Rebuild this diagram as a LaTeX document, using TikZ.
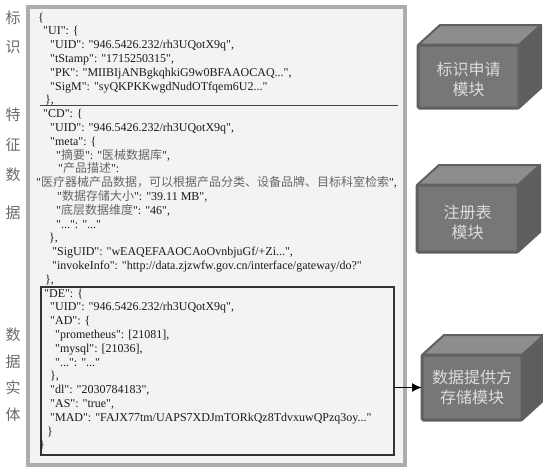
\documentclass[tikz,border=0pt]{standalone}
\usepackage{fontspec}
\setmainfont{Liberation Serif}[Ligatures=TeXOff]
\newfontfamily\cjk{Noto Sans CJK SC}
\usetikzlibrary{arrows.meta,calc}
\definecolor{framegray}{HTML}{ACACAC}
\definecolor{panelbg}{HTML}{F3F3F3}
\definecolor{txt}{HTML}{1A1A1A}
\definecolor{zhgray}{HTML}{666666}
\definecolor{sidegray}{HTML}{6A6A6A}
\definecolor{cubeedge}{HTML}{606060}
\definecolor{cubefrontc}{HTML}{777777}
\definecolor{cubetopc}{HTML}{8D8D8D}
\definecolor{cubesidec}{HTML}{5E5E5E}
\definecolor{cubetxt}{HTML}{DCDCDC}
\pgfdeclarelayer{bg}
\pgfsetlayers{bg,main}
\newcommand{\zh}[1]{{\cjk\color{zhgray}#1}}
\newcommand{\J}[4]{\node[jl] (#1) at (#2,{21+13.8*#3}) {#4};}
\newcommand{\cubebox}[7]{%
  \node[cubefront, minimum width=#4, minimum height=#5] (#1) at (#2,#3) {};
  \begin{pgfonlayer}{bg}
    \path[cubetop] (#1.north west) -- ++(22,-20) -- ($(#1.north east)+(22,-20)$) -- (#1.north east) -- cycle;
    \path[cubeside] (#1.north east) -- ++(22,-20) -- ($(#1.south east)+(22,-20)$) -- (#1.south east) -- cycle;
  \end{pgfonlayer}
  \node[cubetext] (#1t) at ([yshift=-#7]#1.center) {#6};
}
\tikzset{
  panel/.style={draw=framegray, line width=4pt, fill=panelbg, outer sep=0pt, inner sep=0pt},
  jl/.style={anchor=base west, inner sep=0pt, text=txt, font=\fontsize{12}{14}\selectfont},
  sidelabel/.style={inner sep=0pt, text=sidegray, font=\cjk\fontsize{15}{15}\selectfont},
  debox/.style={draw=black!80, line width=1.1pt, outer sep=0pt, inner sep=0pt},
  seprule/.style={draw=black!75, line width=1pt},
  cubefront/.style={draw=cubeedge, fill=cubefrontc, line width=3pt, rounded corners=1.5pt, outer sep=0pt, inner sep=0pt},
  cubetop/.style={draw=cubeedge, fill=cubetopc, line width=2pt, line join=round},
  cubeside/.style={draw=cubeedge, fill=cubesidec, line width=2pt, line join=round},
  cubetext/.style={align=center, inner sep=0pt, text=cubetxt, font=\cjk\fontsize{16}{20}\selectfont},
  arrowline/.style={draw=black, line width=1.6pt, -{Latex[length=10pt,width=9pt]}}
}
\begin{document}
\begin{tikzpicture}[x=1pt,y=-1pt]
\useasboundingbox (0,0) rectangle (543,469);
% outer panel
\node[panel, minimum width=377pt, minimum height=458pt] (panel) at (216.5,235.5) {};
% separator and DE box
\draw[seprule] (40,105) -- (398,105);
\node[debox, minimum width=353pt, minimum height=168pt] (de) at (217.5,371) {};
% side labels
\node[sidelabel] (s1) at (13,18) {标};
\node[sidelabel] (s2) at (13,47) {识};
\node[sidelabel] (s3) at (13,115) {特};
\node[sidelabel] (s4) at (13,145) {征};
\node[sidelabel] (s5) at (13,175) {数};
\node[sidelabel] (s6) at (13,213) {据};
\node[sidelabel] (s7) at (13,335) {数};
\node[sidelabel] (s8) at (13,362) {据};
\node[sidelabel] (s9) at (13,388) {实};
\node[sidelabel] (s10) at (13,415) {体};
% JSON lines
\J{j0}{38}{0}{\{}
\J{j1}{43}{1}{"UI": \{}
\J{j2}{50}{2}{"UID": "946.5426.232/rh3UQotX9q",}
\J{j3}{50}{3}{"tStamp": "1715250315",}
\J{j4}{50}{4}{"PK": "MIIBIjANBgkqhkiG9w0BFAAOCAQ...",}
\J{j5}{50}{5}{"SigM": "syQKPKKwgdNudOTfqem6U2..."}
\J{j6}{45}{6}{\},}
\J{j7}{43}{7}{"CD": \{}
\J{j8}{50}{8}{"UID": "946.5426.232/rh3UQotX9q",}
\J{j9}{50}{9}{"meta": \{}
\J{j10}{56}{10}{"\zh{摘要}": "\zh{医械数据库}",}
\J{j11}{58}{11}{"\zh{产品描述}":}
\J{j12}{36}{12}{"\zh{医疗器械产品数据，可以根据产品分类、设备品牌、目标科室检索}",}
\J{j13}{57}{13}{"\zh{数据存储大小}": "39.11 MB",}
\J{j14}{56}{14}{"\zh{底层数据维度}": "46",}
\J{j15}{56}{15}{"...": "..."}
\J{j16}{49}{16}{\},}
\J{j17}{52}{17}{"SigUID": "wEAQEFAAOCAoOvnbjuGf/+Zi...",}
\J{j18}{52}{18}{"invokeInfo": "http://data.zjzwfw.gov.cn/interface/gateway/do?"}
\J{j19}{45}{19}{\},}
\J{j20}{44}{20}{"DE": \{}
\J{j21}{50}{21}{"UID": "946.5426.232/rh3UQotX9q",}
\J{j22}{50}{22}{"AD": \{}
\J{j23}{55}{23}{"prometheus": [21081],}
\J{j24}{55}{24}{"mysql": [21036],}
\J{j25}{55}{25}{"...": "..."}
\J{j26}{50}{26}{\},}
\J{j27}{50}{27}{"dl": "2030784183",}
\J{j28}{50}{28}{"AS": "true",}
\J{j29}{50}{29}{"MAD": "FAJX77tm/UAPS7XDJmTORkQz8TdvxuwQPzq3oy..."}
\J{j30}{47}{30}{\}}
\J{j31}{39}{31}{\}}
% cubes
\cubebox{c1}{468.5}{76.5}{101pt}{63pt}{标识申请\\模块}{2.5pt}
\cubebox{c2}{467.5}{218.5}{101pt}{67pt}{注册表\\模块}{4pt}
\cubebox{c3}{472}{387.5}{100pt}{65pt}{数据提供方\\存储模块}{0pt}
% arrow
\draw[arrowline] (de.east |- c3.west) -- (c3.west);
\end{tikzpicture}
\end{document}
